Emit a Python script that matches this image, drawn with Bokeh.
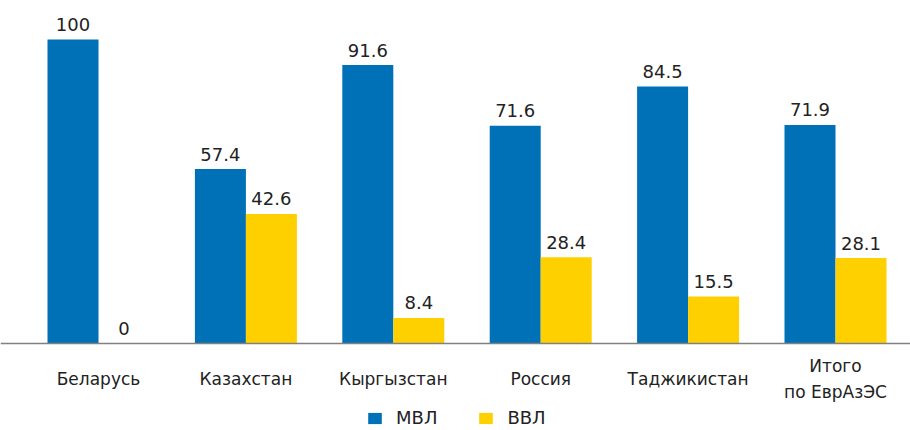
from bokeh.plotting import figure
from bokeh.models import Range1d, Span, Legend, LegendItem, ColumnDataSource
from bokeh.core.properties import value
from bokeh.embed import file_html
from bokeh.resources import INLINE

# ---- data ----
categories = ["Беларусь", "Казахстан", "Кыргызстан", "Россия", "Таджикистан", "Итого\nпо ЕврАзЭС"]
mvl = [100, 57.4, 91.6, 71.6, 84.5, 71.9]
vvl = [0, 42.6, 8.4, 28.4, 15.5, 28.1]
series_names = ["МВЛ", "ВВЛ"]

# ---- style ----
BLUE = "#0071B6"
YELLOW = "#FFD000"
TEXT = "#222222"
FONT_NAME = "DejaVu Sans"
FONT = value(FONT_NAME)
BAR_W = 0.346

idx = list(range(len(categories)))
src = ColumnDataSource(dict(
    cat=categories,
    x_mvl=[i - BAR_W / 2 for i in idx],
    x_vvl=[i + BAR_W / 2 for i in idx],
    x_cat=idx,
    mvl=mvl,
    vvl=vvl,
    mvl_lbl=[f"{v:g}" for v in mvl],
    vvl_lbl=[f"{v:g}" for v in vvl],
    zero=[0] * len(idx),
))

p = figure(width=910, height=430, output_backend="svg", toolbar_location=None,
           x_range=Range1d(-0.6649, 5.5088), y_range=Range1d(-28.62, 112.83),
           x_axis_location=None, y_axis_location=None, min_border=0)
p.outline_line_color = None
p.xgrid.visible = False
p.ygrid.visible = False
p.background_fill_color = "white"

r1 = p.vbar(x="x_mvl", top="mvl", width=BAR_W, source=src, fill_color=BLUE, line_color=None)
r2 = p.vbar(x="x_vvl", top="vvl", width=BAR_W, source=src, fill_color=YELLOW, line_color=None)

p.add_layout(Span(location=0, dimension="width", line_color="#808080", line_width=1.5))

p.text(x="x_mvl", y="mvl", text="mvl_lbl", source=src, text_font=FONT, text_font_size="18px",
       text_align="center", text_baseline="alphabetic", y_offset=-15, text_color=TEXT)
p.text(x="x_vvl", y="vvl", text="vvl_lbl", source=src, text_font=FONT, text_font_size="18px",
       text_align="center", text_baseline="alphabetic", y_offset=-15, text_color=TEXT)

p.text(x="x_cat", y="zero", text="cat", source=src, text_font=FONT, text_font_size="17px",
       text_align="center", text_baseline="middle", y_offset=36, text_color=TEXT,
       text_line_height=1.3)

legend = Legend(items=[LegendItem(label=series_names[0], renderers=[r1]),
                       LegendItem(label=series_names[1], renderers=[r2])],
                orientation="horizontal", location=(366, 2),
                glyph_width=17, glyph_height=14, label_standoff=13, spacing=40,
                padding=0, margin=0, border_line_color=None, background_fill_alpha=0,
                label_text_font=FONT_NAME, label_text_font_size="18px", label_text_color=TEXT)
p.add_layout(legend)

open("out.html", "w").write(file_html(p, INLINE))
